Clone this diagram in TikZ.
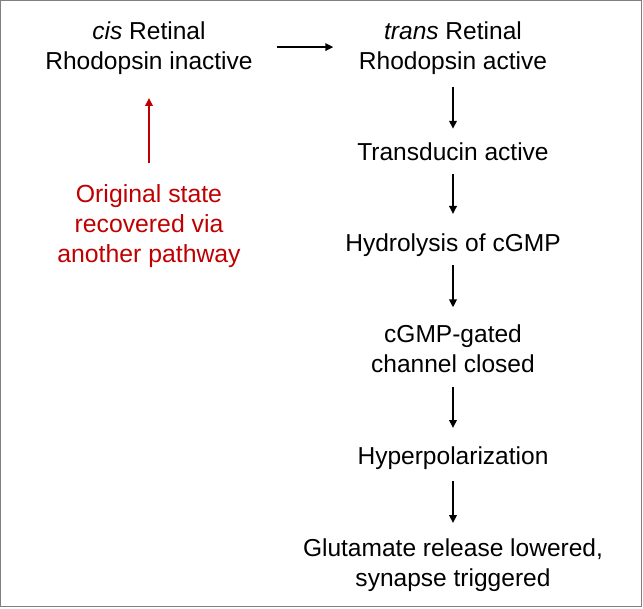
\documentclass[tikz,border=0pt]{standalone}
\usepackage{fontspec}
\setmainfont{Liberation Sans}
\usetikzlibrary{arrows.meta}
\definecolor{darkred}{RGB}{192,0,0}
\definecolor{framegray}{RGB}{128,128,128}

\tikzset{
  stage/.style={inner sep=0pt, align=center, font=\fontsize{18.4}{22.5}\selectfont,
    execute at begin node=\strut, execute at end node=\strut},
  note/.style={stage, text=darkred, font=\fontsize{18.6}{22.3}\selectfont},
  arr/.style={line width=1.6pt, -{Triangle[length=6pt,width=5.6pt]}}
}

\begin{document}
\begin{tikzpicture}[x=0.75pt, y=-0.75pt]
  \useasboundingbox (0,0) rectangle (643,608);
  \draw [framegray, line width=1pt] (0.6,0.6) rectangle (641.6,606.6);

  \node [stage] (cis)   at (149, 50)    {\textit{cis} Retinal\\Rhodopsin inactive};
  \node [stage] (trans) at (453, 50)    {\textit{trans} Retinal\\Rhodopsin active};
  \node [stage] (td)    at (453, 154.5) {Transducin active};
  \node [stage] (hyd)   at (453, 245.7) {Hydrolysis of cGMP};
  \node [stage] (chan)  at (453, 352.7) {cGMP-gated\\channel closed};
  \node [stage] (hyp)   at (453, 458)   {Hyperpolarization};
  \node [stage] (glu)   at (453, 567.3) {Glutamate release lowered,\\synapse triggered};
  \node [note]  (back)  at (149, 228.1) {Original state\\recovered via\\another pathway};

  \draw [arr, shorten <=17.7pt, shorten >=19pt] ([yshift=2.2pt]cis.east) -- ([yshift=2.2pt]trans.west);
  \draw [arr, shorten <=6.25pt, shorten >=7.85pt] (trans) -- (td);
  \draw [arr, shorten <=2.85pt, shorten >=12.35pt] (td) -- (hyd);
  \draw [arr, shorten <=3.25pt, shorten >=12.5pt] (hyd) -- (chan);
  \draw [arr, shorten <=4.5pt, shorten >=11.05pt] (chan) -- (hyp);
  \draw [arr, shorten <=6pt, shorten >=11.7pt] (hyp) -- (glu);
  \draw [arr, darkred, shorten <=16.6pt, shorten >=14.5pt] (back) -- (cis);
\end{tikzpicture}
\end{document}
